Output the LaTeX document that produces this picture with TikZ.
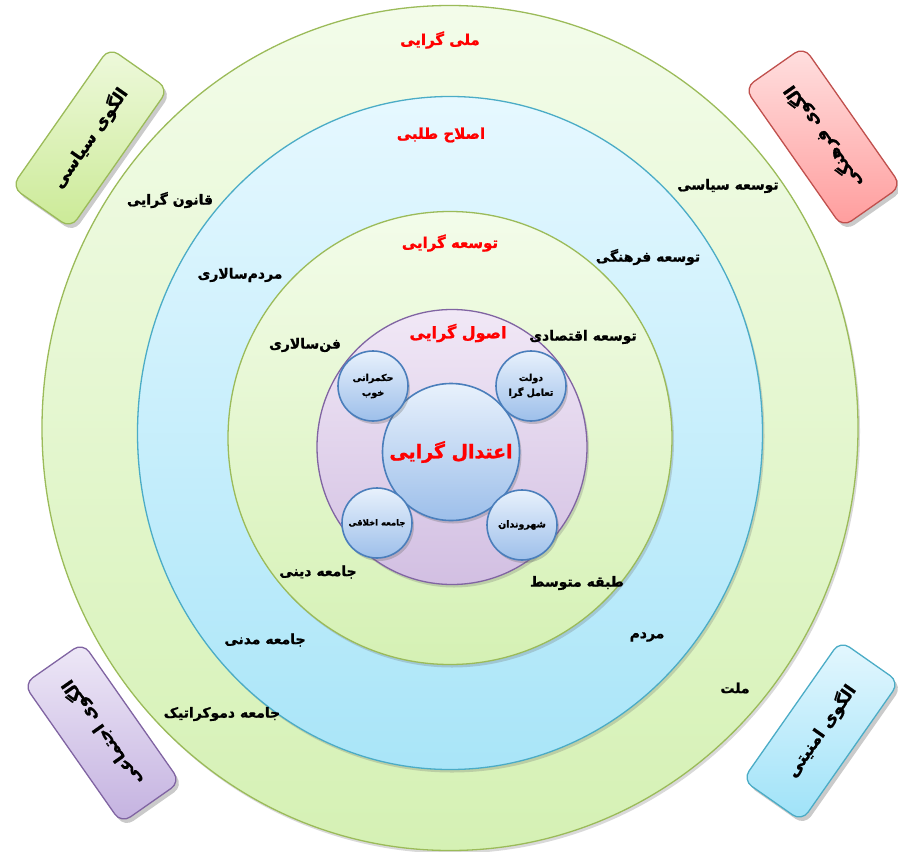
\documentclass[tikz,border=0pt]{standalone}
\usepackage{fontspec}
\newfontfamily\fa[Script=Arabic,BoldFeatures={FakeBold=1.2}]{DejaVu Sans}
\TeXXeTstate=1
\usetikzlibrary{shapes.geometric,shadows}
\definecolor{ogA}{HTML}{F3FCEA}
\definecolor{ogB}{HTML}{D5F1B4}
\definecolor{ogLine}{HTML}{9BBB59}
\definecolor{blA}{HTML}{E6F8FF}
\definecolor{blB}{HTML}{A9E5F8}
\definecolor{blLine}{HTML}{4BACC6}
\definecolor{puA}{HTML}{F1E8F6}
\definecolor{puB}{HTML}{D2BFE2}
\definecolor{puLine}{HTML}{8064A2}
\definecolor{scA}{HTML}{E8F1FC}
\definecolor{scB}{HTML}{9DBFEA}
\definecolor{scLine}{HTML}{4A7EBB}
\definecolor{rdA}{HTML}{FFE0E0}
\definecolor{rdB}{HTML}{FF9C9C}
\definecolor{rdLine}{HTML}{C0504D}
\definecolor{gbA}{HTML}{EEF9DC}
\definecolor{gbB}{HTML}{CBEA96}
\definecolor{pbA}{HTML}{EEE8F7}
\definecolor{pbB}{HTML}{C4B2E0}
\definecolor{bbA}{HTML}{E4F7FE}
\definecolor{bbB}{HTML}{9EE2F8}
\begin{document}
\begin{tikzpicture}[x=1bp,y=-1bp,
  ring/.style={ellipse, inner sep=0pt, line width=1.3bp,
    drop shadow={shadow xshift=2bp, shadow yshift=-3bp, opacity=0.25, fill=black!60}},
  smallc/.style={circle, inner sep=0pt, minimum size=70bp, line width=1.6bp, draw=scLine,
    top color=scA, bottom color=scB, align=center,
    font=\fa\bfseries\fontsize{9.5}{15}\selectfont,
    drop shadow={shadow xshift=2bp, shadow yshift=-3bp, opacity=0.3, fill=black!60}},
  lbl/.style={font=\fa\bfseries\fontsize{14}{16}\selectfont, text=black, inner sep=1bp},
  ttl/.style={lbl, text=red, font=\fa\bfseries\fontsize{15}{17}\selectfont},
  cbox/.style={rectangle, rounded corners=11bp, minimum width=170bp, minimum height=72bp,
    line width=1.3bp, font=\fa\bfseries\fontsize{17}{19}\selectfont,
    drop shadow={shadow xshift=3bp, shadow yshift=-4bp, opacity=0.35, fill=black!60}}]
\useasboundingbox (0,0) rectangle (898,852);
% rings
\node[ring, draw=ogLine, top color=ogA, bottom color=ogB, minimum width=816bp, minimum height=845bp] (outer) at (450,428) {};
\node[ring, draw=blLine, top color=blA, bottom color=blB, minimum width=625bp, minimum height=673bp] (blue) at (450,433) {};
\node[ring, draw=ogLine, top color=ogA, bottom color=ogB, minimum width=444bp, minimum height=453bp] (inner) at (450,438) {};
\node[ring, draw=puLine, top color=puA, bottom color=puB, minimum width=270bp, minimum height=275bp] (purple) at (452,447) {};
% central and small circles
\node[smallc, minimum size=137bp, font=\fa\bfseries\fontsize{19}{22}\selectfont, text=red] (center) at (451,452) {\beginR اعتدال گرایی\endR};
\node[smallc] (c1) at (373,386) {\beginR حکمرانی\endR\\\beginR خوب\endR};
\node[smallc] (c2) at (531,386) {\beginR دولت\endR\\\beginR تعامل گرا\endR};
\node[smallc, font=\fa\bfseries\fontsize{8.5}{13}\selectfont] (c3) at (377,523) {\beginR جامعه اخلاقی\endR};
\node[smallc] (c4) at (522,525) {\beginR شهروندان\endR};
% titles
\node[ttl] (t1) at (440,40) {\beginR ملی گرایی\endR};
\node[ttl] (t2) at (441,135) {\beginR اصلاح طلبی\endR};
\node[ttl] (t3) at (450,243) {\beginR توسعه گرایی\endR};
\node[ttl, font=\fa\bfseries\fontsize{16}{18}\selectfont] (t4) at (458,333) {\beginR اصول گرایی\endR};
% labels
\node[lbl] (l1) at (170,200) {\beginR قانون گرایی\endR};
\node[lbl] (l2) at (728,186) {\beginR توسعه سیاسی\endR};
\node[lbl] (l3) at (240,275) {\beginR مردم‌سالاری\endR};
\node[lbl] (l4) at (648,257) {\beginR توسعه فرهنگی\endR};
\node[lbl] (l5) at (305,345) {\beginR فن‌سالاری\endR};
\node[lbl] (l6) at (583,337) {\beginR توسعه اقتصادی\endR};
\node[lbl] (l7) at (318,572) {\beginR جامعه دینی\endR};
\node[lbl] (l8) at (577,583) {\beginR طبقه متوسط\endR};
\node[lbl] (l9) at (265,640) {\beginR جامعه مدنی\endR};
\node[lbl] (l10) at (647,637) {\beginR مردم\endR};
\node[lbl] (l11) at (222,714) {\beginR جامعه دموکراتیک\endR};
\node[lbl] (l12) at (735,688) {\beginR ملت\endR};
% corner boxes
\node[cbox, draw=ogLine, top color=gbA, bottom color=gbB, rotate=55] (b1) at (90,138) {\beginR الگوی سیاسی\endR};
\node[cbox, draw=rdLine, top color=rdA, bottom color=rdB, rotate=125] (b2) at (823,137) {\beginR الگوی فرهنگی\endR};
\node[cbox, draw=puLine, top color=pbA, bottom color=pbB, rotate=125] (b3) at (102,733) {\beginR الگوی اجتماعی\endR};
\node[cbox, draw=blLine, top color=bbA, bottom color=bbB, rotate=55] (b4) at (821,731) {\beginR الگوی امنیتی\endR};
\end{tikzpicture}
\end{document}
